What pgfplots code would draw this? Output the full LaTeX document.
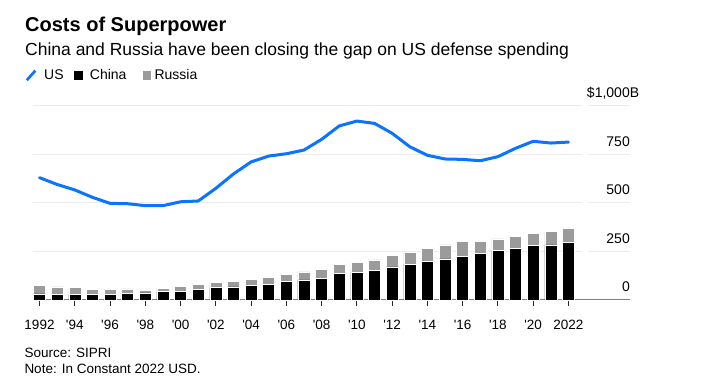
\documentclass[border=0pt]{standalone}
\usepackage{pgfplots}
\pgfplotsset{compat=1.18}
\usepackage{pgfplotstable}
\usepackage{fontspec}
\setmainfont{Liberation Sans}
\definecolor{usblue}{RGB}{10,115,255}
\definecolor{rugray}{RGB}{155,155,155}
\definecolor{gridgray}{RGB}{236,236,236}

\pgfplotstableread{
year china russia us
1992 31 46 629
1993 27 40 594
1994 27 38 566
1995 27 26 528
1996 29 24 497
1997 33 24 495
1998 36 14 485
1999 43 17 485
2000 45 25 505
2001 53 28 509
2002 63 28 574
2003 68 28 648
2004 74 31 710
2005 82 35 740
2006 94 38 752
2007 103 41 771
2008 112 46 826
2009 135 50 895
2010 142 50 920
2011 154 52 908
2012 170 60 857
2013 183 62 788
2014 197 67 744
2015 211 73 725
2016 226 77 723
2017 238 64 716
2018 254 60 737
2019 264 65 780
2020 279 64 816
2021 284 67 807
2022 298 72 812
}\data

\begin{document}
\begin{tikzpicture}[x=1pt,y=1pt]
\path[use as bounding box] (0,0) rectangle (702,391);
\begin{axis}[
  at={(32.7pt,91pt)}, anchor=south west, scale only axis,
  width=597.3pt, height=194.5pt,
  xmin=1991.614, xmax=2025.49, ymin=0, ymax=1000,
  clip=false,
  axis x line*=bottom, axis y line*=right,
  x axis line style={-, draw=black!50, line width=1pt},
  y axis line style={draw=none},
  xtick={1992,1994,...,2022},
  xticklabels={1992,\textquotesingle94,\textquotesingle96,\textquotesingle98,\textquotesingle00,\textquotesingle02,\textquotesingle04,\textquotesingle06,\textquotesingle08,\textquotesingle10,\textquotesingle12,\textquotesingle14,\textquotesingle16,\textquotesingle18,\textquotesingle20,2022},
  ytick={0,250,500,750,1000},
  yticklabels={0,250,500,750,{\llap{\$}1,000\rlap{B}}},
  ymajorgrids, grid style={gridgray, line width=1pt},
  xtick align=outside, major tick length=5.5pt,
  xtick style={draw=black!85, line width=1pt},
  ytick style={draw=none},
  yticklabel style={anchor=base east, inner sep=0pt, yshift=8pt, font=\fontsize{14}{14}\selectfont},
  xticklabel style={anchor=base, inner sep=0pt, yshift=-23.8pt, font=\fontsize{13.5}{13.5}\selectfont},
  axis on top=false,
]
\addplot[ybar, bar width=12pt, bar shift=0pt, fill=rugray, draw=white, line width=0.5pt]
  table[x=year, y expr=\thisrow{china}+\thisrow{russia}]{\data};
\addplot[ybar, bar width=12pt, bar shift=0pt, fill=black, draw=white, line width=0.5pt]
  table[x=year, y=china]{\data};
\addplot[usblue, line width=3pt, line join=round, line cap=round, mark=none]
  table[x=year, y=us]{\data};
\fill[white] (axis cs:2022.754,4) rectangle (axis cs:2023.128,1010);
\end{axis}
% titles
\node[anchor=base west, inner sep=0pt, font=\bfseries\fontsize{20}{20}\selectfont] at (25,359.3) {Costs of Superpower};
\node[anchor=base west, inner sep=0pt, font=\fontsize{17.5}{17.5}\selectfont] at (25,335.3) {China and Russia have been closing the gap on US defense spending};
% legend
\draw[usblue, line width=2.7pt] (26.8,310.8) -- (35.3,320.3);
\node[anchor=base west, inner sep=0pt, font=\fontsize{14}{14}\selectfont] at (44,311) {US};
\fill[black] (74.3,311) rectangle (83.3,319.5);
\node[anchor=base west, inner sep=0pt, font=\fontsize{14}{14}\selectfont] at (89.7,311) {China};
\fill[rugray] (142.7,311) rectangle (151,319.5);
\node[anchor=base west, inner sep=0pt, font=\fontsize{14}{14}\selectfont] at (154.3,311) {Russia};
% notes
\node[anchor=base west, inner sep=0pt, font=\fontsize{13.5}{13.5}\selectfont] at (24.3,33.3) {Source: SIPRI};
\node[anchor=base west, inner sep=0pt, font=\fontsize{13.5}{13.5}\selectfont] at (24.3,17.7) {Note: In Constant 2022 USD.};
\end{tikzpicture}
\end{document}
